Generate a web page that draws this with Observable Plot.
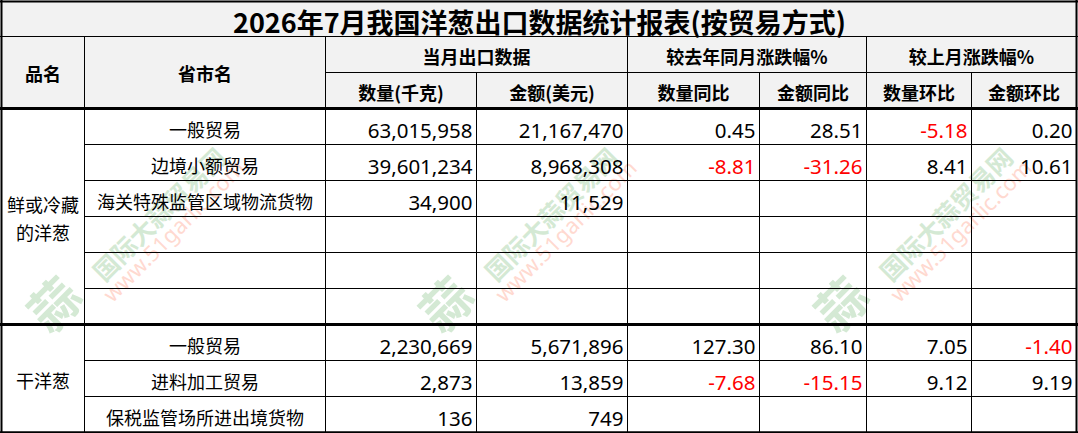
<!DOCTYPE html>
<html><head><meta charset="utf-8">
<script src="https://cdn.jsdelivr.net/npm/d3@7"></script>
<script src="https://cdn.jsdelivr.net/npm/@observablehq/plot@0.6"></script>
<style>html,body{margin:0;padding:0;background:#fff} #chart svg{display:block}</style>
</head><body><div id="chart"></div>
<script>
// ---------- data ----------
const title = "2026年7月我国洋葱出口数据统计报表(按贸易方式)";
const fixedHeaders = ["品名", "省市名"];
const groupHeaders = ["当月出口数据", "较去年同月涨跌幅%", "较上月涨跌幅%"];
const subHeaders = ["数量(千克)", "金额(美元)", "数量同比", "金额同比", "数量环比", "金额环比"];
const categories = ["鲜或冷藏\n的洋葱", "干洋葱"];
const categoryRowCounts = [6, 3];
const tradeModes = ["一般贸易", "边境小额贸易", "海关特殊监管区域物流货物", "", "", "", "一般贸易", "进料加工贸易", "保税监管场所进出境货物"];
const quantityKg = [63015958, 39601234, 34900, null, null, null, 2230669, 2873, 136];
const amountUsd = [21167470, 8968308, 11529, null, null, null, 5671896, 13859, 749];
const quantityYoY = [0.45, -8.81, null, null, null, null, 127.30, -7.68, null];
const amountYoY = [28.51, -31.26, null, null, null, null, 86.10, -15.15, null];
const quantityMoM = [-5.18, 8.41, null, null, null, null, 7.05, 9.12, null];
const amountMoM = [0.20, 10.61, null, null, null, null, -1.40, 9.19, null];
const watermarkName = "国际大蒜贸易网";
const watermarkUrl = "www.51garlic.com";
const watermarkLogo = "蒜";

// ---------- layout ----------
const W = 1078, H = 433;
const colEdges = [1, 84, 325, 476, 627, 759, 866, 971, 1076];
const titleBottom = 36, head1Bottom = 72, headBottom = 108, rowH = 36;
const nRows = tradeModes.length;
const rowTop = i => headBottom + i * rowH;
const tableBottom = rowTop(nRows);
const CJK = "'Noto Sans CJK SC', 'Noto Sans', sans-serif";
const NUM = "'Noto Sans', 'Noto Sans CJK SC', sans-serif";

// backgrounds
const bgs = [{x1: 0, x2: W, y1: 0, y2: headBottom, fill: "#f2f2f2"}];

// grid lines
const segs = [];
const seg = (x1, y1, x2, y2, w) => segs.push({x1, y1, x2, y2, w});
seg(0, titleBottom, W, titleBottom, 1);
seg(colEdges[2], head1Bottom, colEdges[8], head1Bottom, 1);
[1, 2, 4, 6].forEach(c => seg(colEdges[c], titleBottom, colEdges[c], tableBottom, 1));
[3, 5, 7].forEach(c => seg(colEdges[c], head1Bottom, colEdges[c], tableBottom, 1));
let acc = 0;
const groupEnds = categoryRowCounts.map(n => (acc += n));
for (let i = 1; i < nRows; i++) {
  if (groupEnds.includes(i)) continue;
  seg(colEdges[1], rowTop(i), colEdges[8], rowTop(i), 1);
}
groupEnds.slice(0, -1).forEach(i => seg(0, rowTop(i), W, rowTop(i), 3));
seg(0, headBottom, W, headBottom, 3);
// outer border
seg(0, 1, W, 1, 2);
seg(0, tableBottom, W, tableBottom, 2.5);
seg(1, 0, 1, H, 2);
seg(colEdges[8], 0, colEdges[8], H, 2);

// texts
const texts = [];
const addText = (t, x, y, o = {}) => texts.push({t, x, y, anchor: o.anchor || "middle", size: o.size || 18, weight: o.weight || "normal", fill: o.fill || "#000", font: o.font || CJK});
addText(title, W / 2, titleBottom / 2 + 1, {size: 27, weight: "bold"});
fixedHeaders.forEach((h, i) => addText(h, (colEdges[i] + colEdges[i + 1]) / 2, (titleBottom + headBottom) / 2, {weight: "bold"}));
groupHeaders.forEach((h, g) => addText(h, (colEdges[2 + 2 * g] + colEdges[4 + 2 * g]) / 2, (titleBottom + head1Bottom) / 2 + 1, {weight: "bold"}));
subHeaders.forEach((h, i) => addText(h, (colEdges[2 + i] + colEdges[3 + i]) / 2, (head1Bottom + headBottom) / 2 + 1, {weight: "bold"}));
let start = 0;
categories.forEach((c, g) => {
  const n = categoryRowCounts[g];
  addText(c, (colEdges[0] + colEdges[1]) / 2, (rowTop(start) + rowTop(start + n)) / 2 + 1);
  start += n;
});
const fmtInt = d3.format(",");
const fmtPct = v => v.toFixed(2);
const valueCols = [[quantityKg, fmtInt], [amountUsd, fmtInt], [quantityYoY, fmtPct], [amountYoY, fmtPct], [quantityMoM, fmtPct], [amountMoM, fmtPct]];
tradeModes.forEach((m, r) => {
  const cy = rowTop(r) + rowH / 2;
  if (m) addText(m, (colEdges[1] + colEdges[2]) / 2, cy + 1.5);
  valueCols.forEach(([arr, f], c) => {
    const v = arr[r];
    if (v == null) return;
    addText(f(v), colEdges[3 + c] - 4, cy + 1, {anchor: "end", size: 20.5, font: NUM, fill: v < 0 ? "#ff0000" : "#000"});
  });
});

// watermarks (decorative)
const wmCenters = [160, 552, 947];
const wm = [];
wmCenters.forEach(cx => {
  wm.push({t: watermarkName, x: cx, y: 215, size: 25, fill: "#d4e9d4", weight: "bold", font: CJK});
  wm.push({t: watermarkUrl, x: cx + 14, y: 231, size: 22, fill: "#ffd9d0", weight: "normal", font: NUM});
  wm.push({t: watermarkLogo, x: cx - 104, y: 306, size: 50, fill: "#d4e9d4", weight: "bold", font: CJK});
});

const fontGroups = d3.groups(texts, d => d.font + "|" + d.weight + "|" + d.size + "|" + d.anchor);
const wmGroups = d3.groups(wm, d => d.font + "|" + d.weight + "|" + d.size);

const chart = Plot.plot({
  width: W, height: H,
  marginTop: 0, marginRight: 0, marginBottom: 0, marginLeft: 0,
  x: {type: "linear", domain: [0, W], range: [0, W], axis: null},
  y: {type: "linear", domain: [0, H], range: [0, H], axis: null},
  style: {background: "#fff"},
  marks: [
    Plot.rect(bgs, {x1: "x1", x2: "x2", y1: "y1", y2: "y2", fill: "fill"}),
    ...wmGroups.map(([, arr]) => Plot.text(arr, {x: "x", y: "y", text: "t", rotate: -45, fill: "fill",
      fontSize: arr[0].size, fontWeight: arr[0].weight, fontFamily: arr[0].font, textAnchor: "middle", lineAnchor: "middle"})),
    Plot.link(segs, {x1: "x1", y1: "y1", x2: "x2", y2: "y2", stroke: "#000", strokeWidth: "w", strokeLinecap: "square"}),
    ...fontGroups.map(([, arr]) => Plot.text(arr, {x: "x", y: "y", text: "t", fill: "fill",
      fontSize: arr[0].size, fontWeight: arr[0].weight, fontFamily: arr[0].font,
      textAnchor: arr[0].anchor, lineAnchor: "middle", lineHeight: 1.55}))
  ]
});
document.getElementById("chart").appendChild(chart);
</script>
</body></html>
